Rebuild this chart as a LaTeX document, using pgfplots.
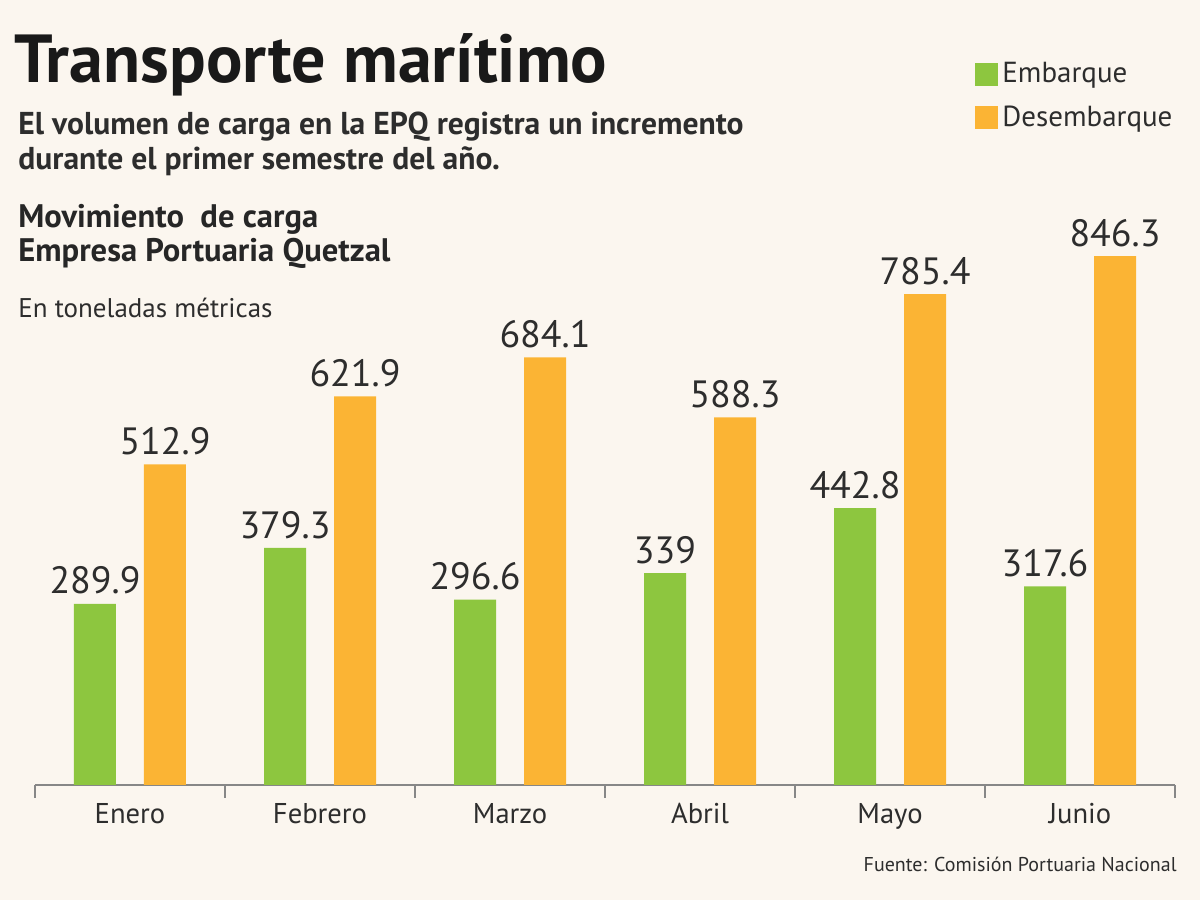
\documentclass[border=0pt]{standalone}
\usepackage{pgfplots}
\pgfplotsset{compat=1.18}
\usepackage{pgfplotstable}
\usepackage{fontspec}
\setmainfont{PT Sans}
\definecolor{bg}{RGB}{251,246,239}
\definecolor{verde}{RGB}{141,198,63}
\definecolor{naranja}{RGB}{251,180,52}
\definecolor{texto}{RGB}{45,45,45}
\definecolor{eje}{RGB}{135,135,135}

\pgfplotstableread{
x emb des
0 289.9 512.9
1 379.3 621.9
2 296.6 684.1
3 339 588.3
4 442.8 785.4
5 317.6 846.3
}\datos

\begin{document}
\begin{tikzpicture}
\fill[bg] (0,0) rectangle (600pt,450pt);
\useasboundingbox (0,0) rectangle (600pt,450pt);
\node[anchor=base west, inner sep=0, font=\fontsize{34}{36}\selectfont\bfseries, text=black!90] at (7pt,408.5pt) {Transporte marítimo};
\node[anchor=base west, inner sep=0, font=\fontsize{15.8}{17}\selectfont\bfseries, text=texto] at (9pt,382.5pt) {El volumen de carga en la EPQ registra un incremento};
\node[anchor=base west, inner sep=0, font=\fontsize{15.8}{17}\selectfont\bfseries, text=texto] at (9pt,365pt) {durante el primer semestre del año.};
\node[anchor=base west, inner sep=0, font=\fontsize{16.3}{17}\selectfont\bfseries, text=black!85] at (9pt,336pt) {Movimiento\ \ de carga};
\node[anchor=base west, inner sep=0, font=\fontsize{16.3}{17}\selectfont\bfseries, text=black!85] at (9pt,319pt) {Empresa Portuaria Quetzal};
\node[anchor=base west, inner sep=0, font=\fontsize{13.5}{15}\selectfont, text=texto] at (9pt,291pt) {En toneladas métricas};
\node[anchor=base east, inner sep=0, font=\fontsize{10}{11}\selectfont, text=texto] at (588.5pt,14pt) {Fuente: Comisión Portuaria Nacional};
\begin{axis}[
  at={(17.5pt,57.5pt)}, anchor=south west,
  scale only axis, width=570pt, height=281.25pt,
  xmin=-0.5, xmax=5.5, ymin=0, ymax=900,
  axis x line*=bottom, axis y line=none,
  x axis line style={eje, line width=0.8pt},
  xtick={0,...,5},
  xticklabels={Enero,Febrero,Marzo,Abril,Mayo,Junio},
  major tick length=0pt,
  minor xtick={-0.5,0.5,1.5,2.5,3.5,4.5,5.5},
  minor tick length=6.5pt, tick align=inside,
  minor tick style={eje, line width=0.8pt},
  xticklabel style={font=\fontsize{14.3}{15}\selectfont, text=texto, inner sep=0pt, anchor=north, yshift=-9pt},
  ytick=\empty,
  ybar, bar width=21pt,
  nodes near coords={\pgfmathprintnumber[fixed,precision=1,assume math mode=true]{\pgfplotspointmeta}},
  every node near coord/.append style={font=\fontsize{19}{20}\selectfont, text=texto, inner sep=0pt, anchor=south, yshift=4.5pt},
  legend style={at={(axis description cs:0.8246,1.292)}, anchor=north west, draw=none, fill=none, inner sep=0pt,
    font=\fontsize{14.5}{15}\selectfont, text=texto, row sep=6pt, cells={anchor=west}},
  legend cell align=left,
  legend image code/.code={\fill[#1] (0pt,-5.75pt) rectangle (11.5pt,5.75pt);},
]
\addplot[draw=none, fill=verde, bar shift=-17.5pt] table[x=x, y=emb] {\datos};
\addplot[draw=none, fill=naranja, bar shift=17.5pt] table[x=x, y=des] {\datos};
\legend{Embarque, Desembarque}
\end{axis}
\end{tikzpicture}
\end{document}
